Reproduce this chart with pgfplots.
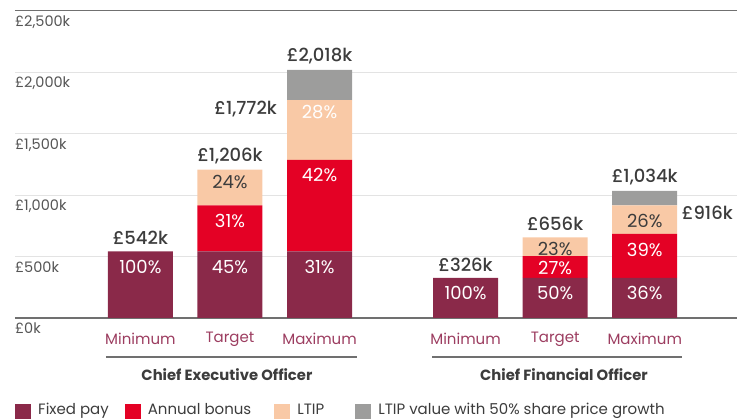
\documentclass[border=0pt]{standalone}
\usepackage{fontspec}
\setmainfont{Poppins}
\newfontfamily\medfont{Poppins Medium}
\usepackage{pgfplots}
\pgfplotsset{compat=1.18}

\definecolor{fixedc}{HTML}{8A2949}
\definecolor{bonusc}{HTML}{E40125}
\definecolor{ltipc}{HTML}{F9C9A6}
\definecolor{growc}{HTML}{9D9D9C}
\definecolor{textc}{HTML}{3C3C3C}
\definecolor{tickc}{HTML}{555555}
\definecolor{catc}{HTML}{9C3D60}
\definecolor{gridc}{HTML}{E3E3E3}
\definecolor{linec}{HTML}{707070}

\tikzset{
  pctfont/.style={font=\fontsize{18}{20}\selectfont, text=white},
  totfont/.style={font=\medfont\fontsize{18}{20}\selectfont, text=textc},
}
\pgfplotsset{
  sq legend/.style={legend image code/.code={\fill[##1] (0pt,-10.5pt) rectangle (16pt,5.5pt);}},
  frame/.style={at={(0pt,0pt)}, anchor=south west,
    scale only axis, width=722pt, height=307.5pt,
    xmin=-1.40, xmax=6.66, ymin=0, ymax=2500, clip=false},
  lbl/.style={only marks, mark=none, draw=none, nodes near coords,
    every node near coord/.append style={anchor=center, inner sep=0pt, #1}},
}

\begin{document}
\begin{tikzpicture}
\begin{axis}[
  frame,
  ybar stacked, bar width=0.7256,
  axis line style={draw=none},
  major tick length=0pt,
  ytick={500,1000,1500,2000},
  yticklabels={£500k,{£1,000k},{£1,500k},{£2,000k}},
  extra y ticks={0,2500},
  extra y tick labels={£0k,{£2,500k}},
  extra y tick style={grid style={draw=linec, line width=1.2pt}},
  ymajorgrids, grid style={draw=gridc, line width=0.8pt},
  yticklabel style={anchor=north west, inner sep=0pt, yshift=-5pt,
    font=\fontsize{14.5}{16}\selectfont, text=tickc},
  xtick={0,1,2,3.63,4.63,5.63},
  xticklabels={Minimum,Target,Maximum,Minimum,Target,Maximum},
  xticklabel style={anchor=center, inner sep=0pt, yshift=-21pt,
    font=\fontsize{15}{17}\selectfont, text=catc},
  legend columns=4,
  legend style={at={(0,0)}, anchor=north west, yshift=-83pt, draw=none, fill=none,
    inner sep=0pt, font=\fontsize{15}{17}\selectfont, text=textc,
    /tikz/every odd column/.append style={column sep=5pt},
    /tikz/every even column/.append style={column sep=14pt}},
  legend cell align=left,
]
% fixed pay, annual bonus, LTIP, LTIP with 50% share price growth (GBP k)
\addplot[fill=fixedc, draw=none, sq legend] coordinates {
  (0,542) (1,542) (2,542) (3.63,326) (4.63,326) (5.63,326)};
\addlegendentry{Fixed pay}
\addplot[fill=bonusc, draw=none, sq legend] coordinates {
  (0,0) (1,374) (2,744) (3.63,0) (4.63,177) (5.63,357)};
\addlegendentry{Annual bonus\rule{7pt}{0pt}}
\addplot[fill=ltipc, draw=none, sq legend] coordinates {
  (0,0) (1,290) (2,486) (3.63,0) (4.63,153) (5.63,233)};
\addlegendentry{LTIP\rule{15pt}{0pt}}
\addplot[fill=growc, draw=none, sq legend] coordinates {
  (0,0) (1,0) (2,246) (3.63,0) (4.63,0) (5.63,118)};
\addlegendentry{LTIP value with 50\% share price growth}

\draw[draw=linec, line width=1.2pt] ([yshift=-39pt]axis cs:-0.385,0) -- ([yshift=-39pt]axis cs:2.413,0);
\draw[draw=linec, line width=1.2pt] ([yshift=-39pt]axis cs:3.257,0) -- ([yshift=-39pt]axis cs:6.05,0);
\node[font=\bfseries\fontsize{14.8}{16}\selectfont, text=textc] at ([yshift=-57pt]axis cs:0.966,0) {Chief Executive Officer};
\node[font=\bfseries\fontsize{14.8}{16}\selectfont, text=textc] at ([yshift=-57pt]axis cs:4.728,0) {Chief Financial Officer};
\end{axis}

% labels at the top of each segment
\begin{axis}[frame, hide axis, point meta=explicit symbolic]
\addplot[lbl={pctfont, yshift=-15.5pt}] coordinates {
  (0,542)[100\%] (1,542)[45\%] (2,542)[31\%]
  (3.63,326)[100\%] (4.63,326)[50\%] (5.63,326)[36\%]
  (1,916)[31\%] (2,1286)[42\%] (5.63,683)[39\%]
  (5.63,916)[\textcolor{textc}{26\%}]};
\addplot[lbl={pctfont, yshift=-12pt}] coordinates {
  (1,1206)[\textcolor{textc}{24\%}] (2,1772)[28\%]
  (4.63,656)[\textcolor{textc}{23\%}] (4.63,503)[27\%]};
\addplot[lbl={totfont, yshift=13.5pt}] coordinates {
  (0,542)[£542k] (1,1206)[{£1,206k}] (2,2018)[{£2,018k}]
  (3.63,326)[£326k] (4.63,656)[£656k] (5.63,1034)[{£1,034k}]};
\addplot[lbl={totfont, anchor=east, xshift=-42.5pt, yshift=-9.5pt}] coordinates {
  (2,1772)[{£1,772k}]};
\addplot[lbl={totfont, anchor=west, xshift=37pt, yshift=-7pt}] coordinates {
  (5.63,916)[£916k]};
\end{axis}
\pgfresetboundingbox
\useasboundingbox (-15pt,-101pt) rectangle (733pt,318pt);
\end{tikzpicture}
\end{document}
